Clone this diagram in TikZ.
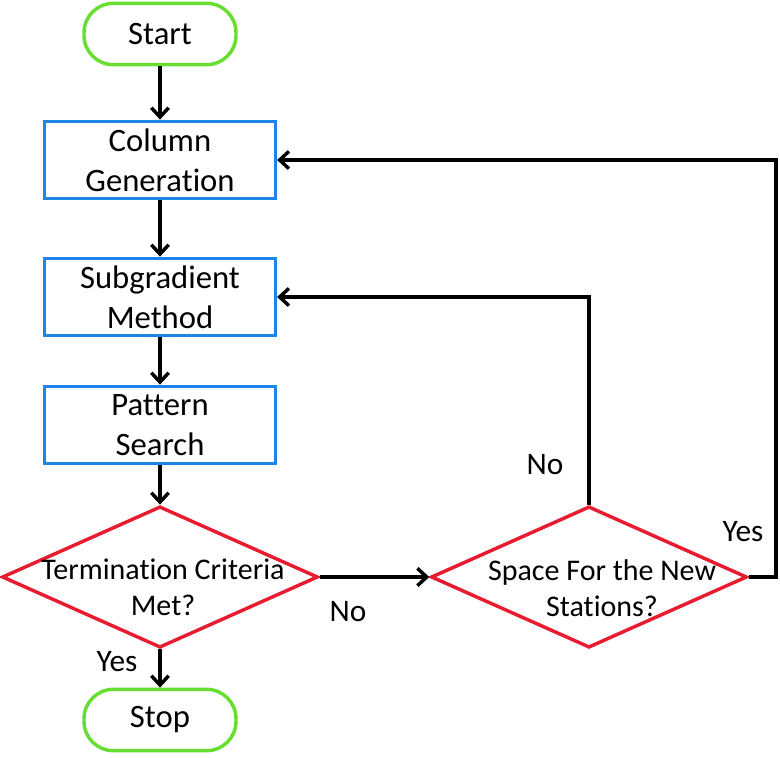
\documentclass[tikz,border=0pt]{standalone}
\usepackage{fontspec}
\setmainfont{Carlito}[Ligatures=NoCommon]
\usetikzlibrary{shapes.geometric,arrows.meta}

\definecolor{termgreen}{RGB}{105,222,50}
\definecolor{stepblue}{RGB}{30,132,232}
\definecolor{askred}{RGB}{232,28,48}

\begin{document}
\begin{tikzpicture}[x=0.75pt, y=-0.75pt,
    terminal/.style={draw=termgreen, line width=2.6pt, rounded corners=22pt,
      minimum width=114pt, minimum height=46pt, font=\fontsize{24.5}{30}\selectfont},
    stepbox/.style={draw=stepblue, line width=2.6pt, minimum width=173pt,
      minimum height=58pt, align=center, font=\fontsize{24.5}{30}\selectfont},
    question/.style={draw=askred, line width=2.6pt, diamond, inner sep=0pt,
      minimum width=237pt, minimum height=106pt},
    asktext/.style={align=center, font=\fontsize{22.5}{27}\selectfont},
    answer/.style={font=\fontsize{23.5}{28}\selectfont},
    flow/.style={line width=2.6pt, -{Straight Barb[length=7pt,width=13pt]}}]
        \useasboundingbox (0, 0) rectangle (780, 757);

        \node[terminal] (start) at (160, 34) {Start};
        \node[stepbox] (colgen) at (160, 160) {Column\\Generation};
        \node[stepbox] (subgrad) at (160, 297) {Subgradient\\Method};
        \node[stepbox] (pattern) at (160, 425) {Pattern\\Search};
        \node[question] (term) at (160, 577) {};
        \node[asktext] (termtext) at (163, 587) {Termination Criteria\\Met?};
        \node[question] (space) at (589, 577) {};
        \node[asktext] (spacetext) at (602, 588) {Space For the New\\Stations?};
        \node[terminal] (stop) at (160, 720) {Stop};
        \coordinate (bend) at (776, 577);

        \node[answer] (yesstop) at (117, 662) {Yes};
        \node[answer] (noterm) at (348, 612) {No};
        \node[answer] (nospace) at (545, 465) {No};
        \node[answer] (yesspace) at (743, 532) {Yes};

        \draw[flow] (start) -- (colgen);
        \draw[flow] (colgen) -- (subgrad);
        \draw[flow] (subgrad) -- (pattern);
        \draw[flow] (pattern) -- (term);
        \draw[flow] (term) -- (stop);
        \draw[flow] (term) -- (space);
        \draw[flow] (space.north) |- (subgrad.east);
        \draw[flow] (space.east) -- (bend) |- (colgen.east);
      \end{tikzpicture}
\end{document}
